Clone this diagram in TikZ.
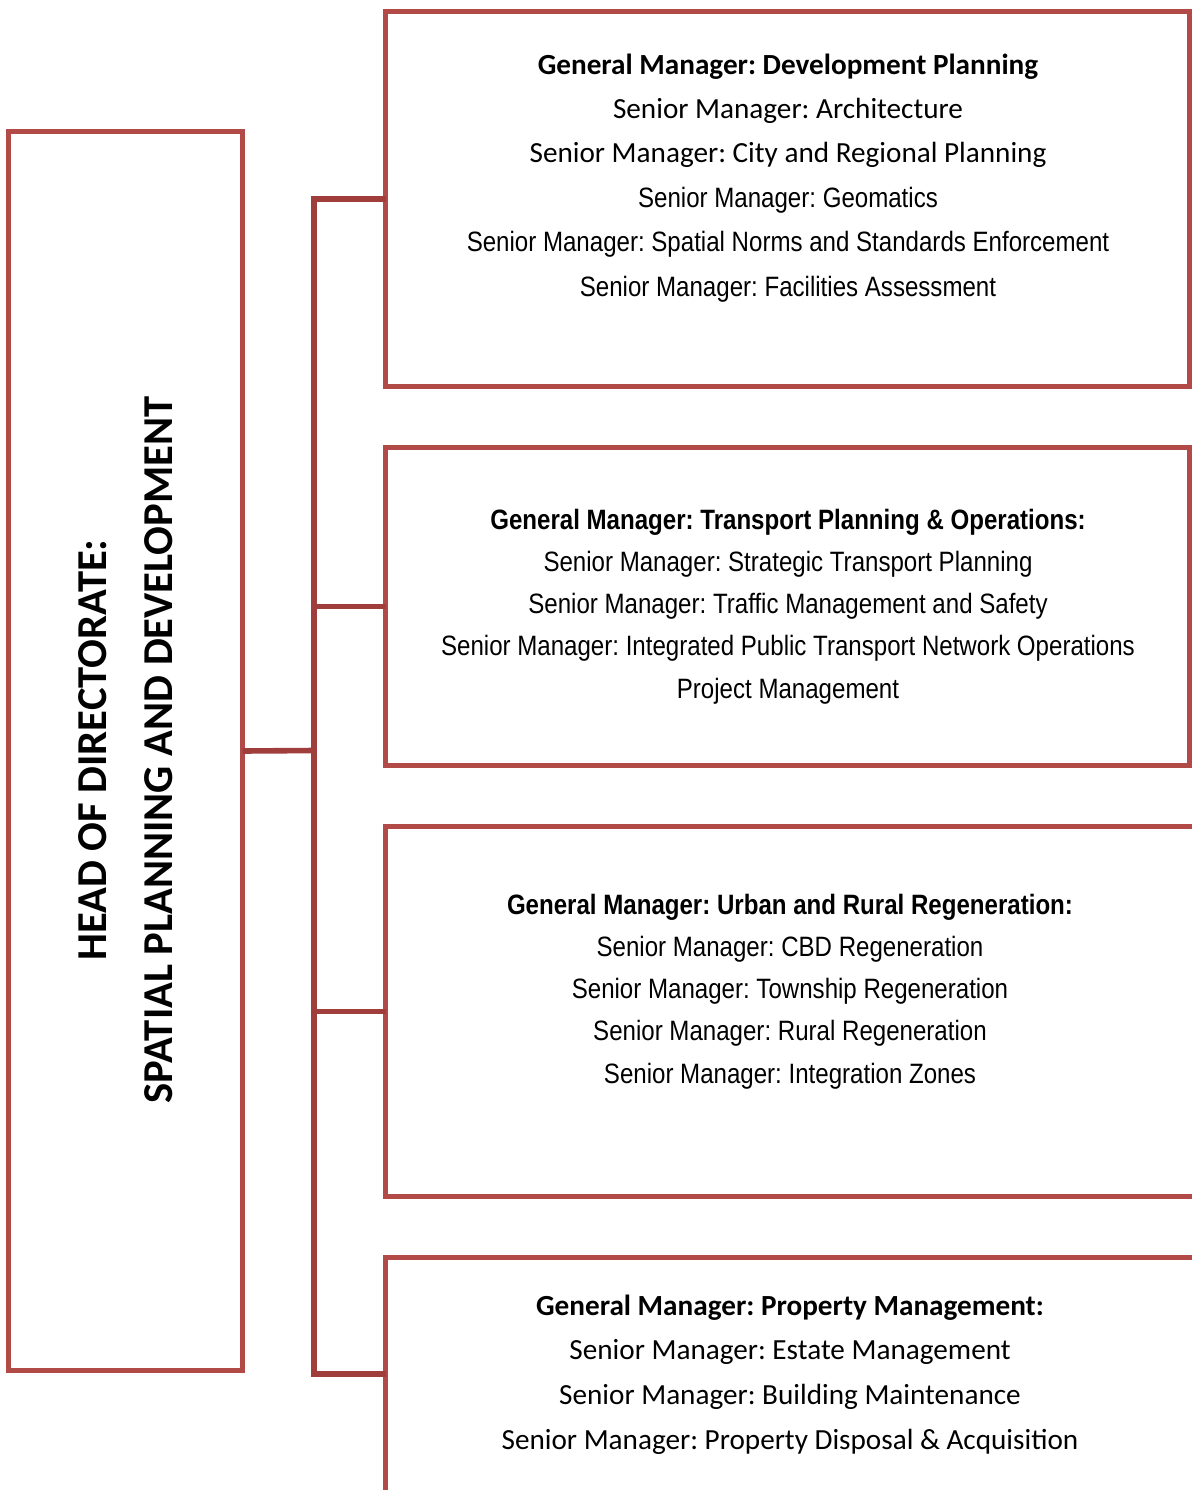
\documentclass[tikz,border=0pt]{standalone}
\usepackage{fontspec}
\setmainfont{Carlito}
\newfontfamily\narrowfont[FakeStretch=0.86]{Liberation Sans}
\definecolor{boxred}{RGB}{178,74,71}
\definecolor{linered}{RGB}{160,62,60}
\frenchspacing
\begin{document}
\begin{tikzpicture}[x=0.5pt,y=-0.5pt,
  orgbox/.style={draw=boxred, line width=2.3pt, rectangle, inner sep=0pt, outer sep=0pt, line join=miter},
  conn/.style={draw=linered, line width=2.8pt, line join=miter},
  cal/.style={anchor=base, inner sep=0pt, font=\fontsize{14.6}{17}\selectfont},
  calb/.style={anchor=base, inner sep=0pt, font=\bfseries\fontsize{14.6}{17}\selectfont},
  nar/.style={anchor=base, inner sep=0pt, font=\narrowfont\fontsize{14}{17}\selectfont},
  narb/.style={anchor=base, inner sep=0pt, font=\narrowfont\bfseries\fontsize{14}{17}\selectfont},
  headtxt/.style={anchor=base, inner sep=0pt, rotate=90, font=\bfseries\fontsize{21.3}{25}\selectfont}
]
\useasboundingbox (0,0) rectangle (1192,1490);
\clip (0,0) rectangle (1192,1490);

% boxes
\node[orgbox, minimum width=117pt, minimum height=619.5pt] (head) at (125.5,751) {};
\node[orgbox, minimum width=402pt, minimum height=187.5pt] (b1) at (787.5,199) {};
\node[orgbox, minimum width=402pt, minimum height=159pt] (b2) at (787.5,606.5) {};
\node[orgbox, minimum width=420pt, minimum height=185pt] (b3) at (805.5,1011.5) {};
\node[orgbox, anchor=north west, minimum width=420pt, minimum height=200pt] (b4) at (385.5,1257.5) {};

% connectors
\coordinate (sp) at (314,750.5);
\coordinate (lvl4) at (0,1374);
\coordinate (b4w) at (b4.north west |- lvl4);
\draw[conn] (head.east) -- (sp);
\draw[conn] (b1.west) -| (sp) |- (b4w);
\draw[conn] (sp |- b2.west) -- (b2.west);
\draw[conn] (sp |- b3.west) -- (b3.west);

% head text
\node[headtxt] (h1) at (106,750) {HEAD OF DIRECTORATE:};
\node[headtxt] (h2) at (172,750) {SPATIAL PLANNING AND DEVELOPMENT};

% box 1
\node[calb] (t11) at (788,74) {General Manager: Development Planning};
\node[cal]  (t12) at (788,118) {Senior Manager: Architecture};
\node[cal]  (t13) at (788,162) {Senior Manager: City and Regional Planning};
\node[nar]  (t14) at (788,207) {Senior Manager: Geomatics};
\node[nar]  (t15) at (788,251) {Senior Manager: Spatial Norms and Standards Enforcement};
\node[nar]  (t16) at (788,296) {Senior Manager: Facilities Assessment};

% box 2
\node[narb] (t21) at (788,529) {General Manager: Transport Planning \& Operations:};
\node[nar]  (t22) at (788,571) {Senior Manager: Strategic Transport Planning};
\node[nar]  (t23) at (788,613) {Senior Manager: Traffic Management and Safety};
\node[nar]  (t24) at (788,655) {Senior Manager: Integrated Public Transport Network Operations};
\node[nar]  (t25) at (788,698) {Project Management};

% box 3
\node[narb] (t31) at (790,914) {General Manager: Urban and Rural Regeneration:};
\node[nar]  (t32) at (790,956) {Senior Manager: CBD Regeneration};
\node[nar]  (t33) at (790,998) {Senior Manager: Township Regeneration};
\node[nar]  (t34) at (790,1040) {Senior Manager: Rural Regeneration};
\node[nar]  (t35) at (790,1083) {Senior Manager: Integration Zones};

% box 4
\node[calb] (t41) at (790,1315) {General Manager: Property Management:};
\node[cal]  (t42) at (790,1359) {Senior Manager: Estate Management};
\node[cal]  (t43) at (790,1404) {Senior Manager: Building Maintenance};
\node[cal]  (t44) at (790,1449) {Senior Manager: Property Disposal \& Acquisition};
\end{tikzpicture}
\end{document}
